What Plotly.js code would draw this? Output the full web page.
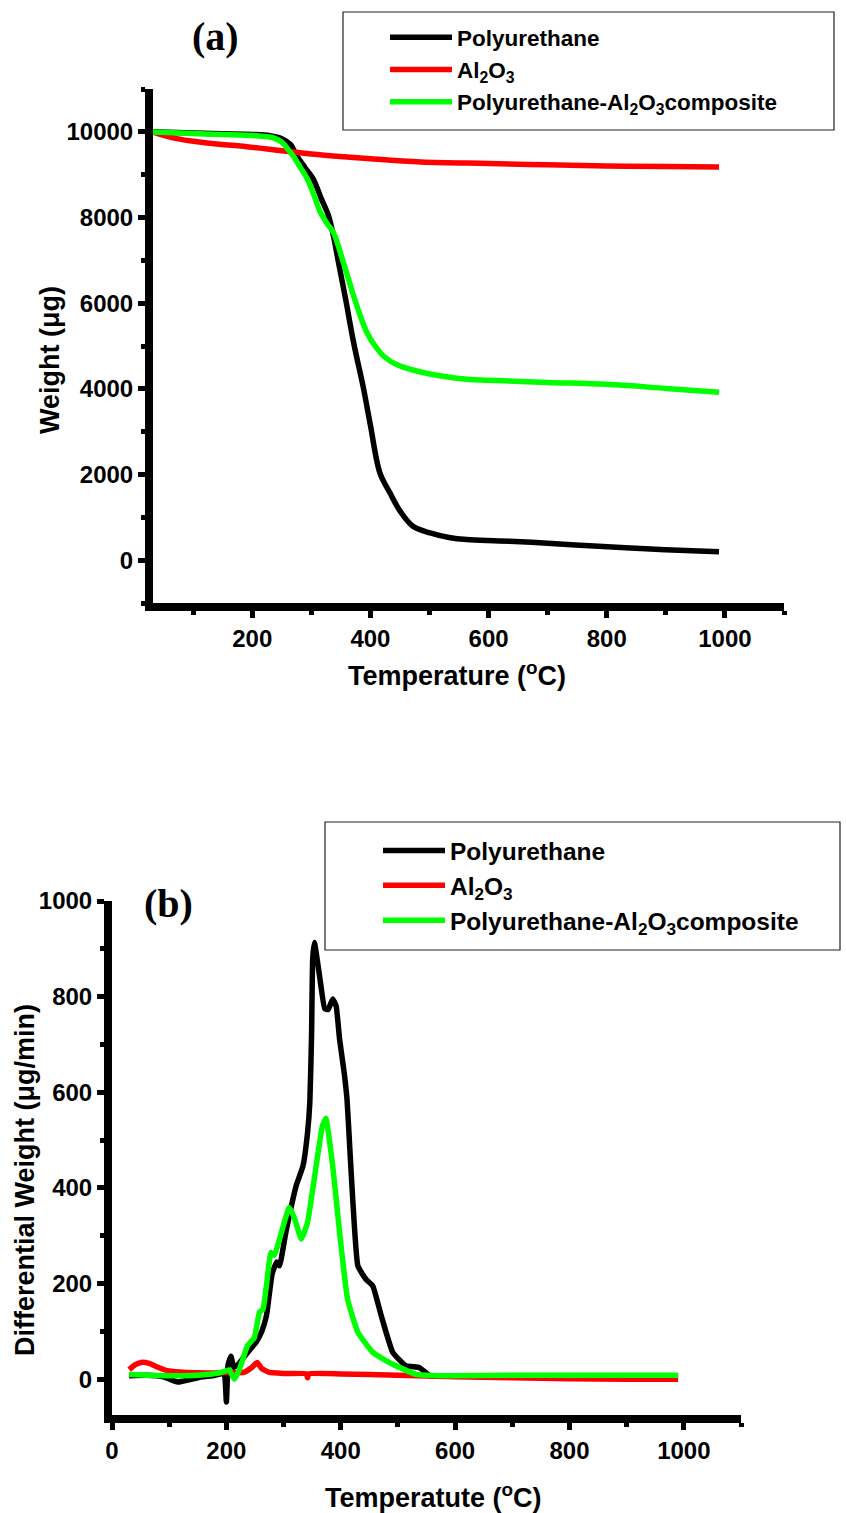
<!DOCTYPE html>
<html>
<head>
<meta charset="utf-8">
<script src="https://cdn.plot.ly/plotly-3.0.1.min.js"></script>
<style>html,body{margin:0;padding:0;background:#fff;}#chart{width:846px;height:1513px;}</style>
</head>
<body>
<div id="chart"></div>
<script>
// ---------- (a) TGA data ----------
const tgaTempPU = [30, 100, 150, 200, 230, 250, 265, 275, 290, 303, 317, 329, 337, 346, 358, 372, 388, 400, 416, 433, 450, 472, 501, 533, 563, 618, 673, 786, 899, 990];
const tgaWeightPU = [10000, 9970, 9955, 9940, 9910, 9840, 9700, 9447, 9150, 8903, 8435, 8044, 7600, 6950, 6095, 5050, 4030, 3150, 2040, 1572, 1150, 791, 636, 530, 480, 450, 416, 323, 246, 199];

const tgaTempAl = [30, 50, 75, 100, 140, 180, 225, 269, 300, 337, 400, 486, 600, 700, 800, 900, 990];
const tgaWeightAl = [10000, 9920, 9836, 9780, 9718, 9670, 9600, 9530, 9480, 9437, 9370, 9296, 9260, 9230, 9200, 9190, 9180];

const tgaTempComp = [30, 100, 165, 200, 235, 250, 260, 269, 280, 293, 305, 315, 327, 337, 354, 372, 383, 394, 408, 422, 445, 478, 520, 563, 600, 700, 800, 900, 990];
const tgaWeightComp = [10000, 9960, 9930, 9915, 9862, 9760, 9600, 9441, 9200, 8903, 8500, 8130, 7850, 7662, 6960, 6150, 5700, 5316, 5000, 4768, 4560, 4417, 4300, 4223, 4200, 4150, 4106, 4010, 3919];

// ---------- (b) DTG data ----------
const dtgTempPU = [30, 60, 90, 115, 150, 180, 196, 200, 203, 208, 213, 220, 230, 240, 252, 262, 270, 280, 288, 293, 304, 322, 334, 342, 346, 349, 351, 354, 363, 372, 378, 386, 392, 398, 406, 411, 416, 421, 430, 444, 456, 471, 491, 514, 538, 555, 600, 700, 800, 900, 990];
const dtgRatePU = [7, 8, 5, -6, 3, 8, 12, -48, 30, 48, 25, 30, 45, 60, 77, 100, 132, 220, 245, 237, 307, 404, 446, 516, 580, 720, 880, 913, 843, 775, 773, 795, 780, 711, 641, 585, 480, 376, 237, 209, 195, 132, 56, 28, 24, 8, 6, 6, 5, 6, 7];

const dtgTempAl = [30, 40, 51, 65, 80, 100, 130, 170, 200, 230, 245, 254, 262, 275, 300, 340, 342, 344, 400, 500, 600, 700, 800, 900, 990];
const dtgRateAl = [20, 30, 35, 33, 25, 17, 14, 13, 14, 14, 25, 35, 22, 14, 12, 11, 3, 11, 11, 8, 5, 3, 1, 0, 0];

const dtgTempComp = [30, 60, 100, 150, 190, 205, 214, 223, 237, 249, 258, 264, 270, 278, 284, 293, 310, 319, 331, 342, 357, 368, 374, 386, 398, 412, 430, 456, 491, 532, 585, 700, 800, 900, 990];
const dtgRateComp = [10, 8, 7, 8, 14, 19, 0, 21, 70, 87, 140, 146, 195, 265, 259, 293, 359, 337, 293, 328, 446, 530, 545, 446, 307, 167, 98, 56, 31, 10, 7, 8, 8, 8, 8];

const seriesNames = ['Polyurethane', 'Al<sub>2</sub>O<sub>3</sub>', 'Polyurethane-Al<sub>2</sub>O<sub>3</sub>composite'];
const seriesColors = ['#000000', '#ff0000', '#00ff00'];

const xTickValsA = [200, 400, 600, 800, 1000];
const xTickValsB = [0, 200, 400, 600, 800, 1000];
const yTickValsA = [0, 2000, 4000, 6000, 8000, 10000];
const yTickTextA = ['0', '2000', '4000', '6000', '8000', '10000'];
const yTickValsB = [0, 200, 400, 600, 800, 1000];

const xTitleA = 'Temperature (<sup>o</sup>C)';
const yTitleA = 'Weight (μg)';
const xTitleB = 'Temperatute (<sup>o</sup>C)';
const yTitleB = 'Differential Weight (μg/min)';

const FONT = 'Liberation Sans, Arial, sans-serif';
const SERIF = 'Liberation Serif, Times New Roman, serif';
const W = 846, H = 1513;
const px = v => v / W;
const py = v => (H - v) / H;

function line(x, y, i, xa, ya, leg, smooth) {
  return {x: x, y: y, type: 'scatter', mode: 'lines', name: seriesNames[i],
    xaxis: xa, yaxis: ya, legend: leg,
    line: {color: seriesColors[i], width: 5.5, shape: 'spline', smoothing: smooth}};
}

const traces = [
  line(tgaTempPU, tgaWeightPU, 0, 'x', 'y', 'legend', 1.0),
  line(tgaTempAl, tgaWeightAl, 1, 'x', 'y', 'legend', 1.0),
  line(tgaTempComp, tgaWeightComp, 2, 'x', 'y', 'legend', 1.0),
  line(dtgTempPU, dtgRatePU, 0, 'x2', 'y2', 'legend2', 0.4),
  line(dtgTempAl, dtgRateAl, 1, 'x2', 'y2', 'legend2', 0.4),
  line(dtgTempComp, dtgRateComp, 2, 'x2', 'y2', 'legend2', 0.4)
];

const tickFont = {family: FONT, size: 24, color: '#000', weight: 'bold'};
const titleFont = {family: FONT, size: 27, color: '#000', weight: 'bold'};

function axisCommon(extra) {
  return Object.assign({
    showline: true, linecolor: '#000', linewidth: 8,
    ticks: 'outside', ticklen: 7, tickwidth: 5, tickcolor: '#000',
    showgrid: false, zeroline: false, mirror: false,
    tickfont: tickFont, automargin: false, fixedrange: true
  }, extra);
}
const minorTicks = d => ({ticks: 'outside', dtick: d, tick0: 0, ticklen: 4, tickwidth: 5, tickcolor: '#000'});

const layout = {
  width: W, height: H,
  margin: {l: 0, r: 0, t: 0, b: 0},
  paper_bgcolor: '#fff', plot_bgcolor: '#fff',
  showlegend: true,
  xaxis: axisCommon({
    domain: [px(153), px(784)], range: [32, 1100], anchor: 'y',
    tickmode: 'array', tickvals: xTickValsA, minor: minorTicks(100)
  }),
  yaxis: axisCommon({
    domain: [py(603), py(89)], range: [-1000, 11000], anchor: 'x',
    tickmode: 'array', tickvals: yTickValsA, ticktext: yTickTextA, minor: minorTicks(1000)
  }),
  xaxis2: axisCommon({
    domain: [px(112), px(741)], range: [0, 1100], anchor: 'y2',
    tickmode: 'array', tickvals: xTickValsB, minor: minorTicks(100)
  }),
  yaxis2: axisCommon({
    domain: [py(1415), py(901)], range: [-75, 1000], anchor: 'x2',
    tickmode: 'array', tickvals: yTickValsB, minor: minorTicks(100)
  }),
  legend: {
    x: px(385), y: py(16), xanchor: 'left', yanchor: 'top',
    bgcolor: 'rgba(0,0,0,0)', borderwidth: 0, itemwidth: 62,
    font: {family: FONT, size: 22.5, color: '#000', weight: 'bold'},
    tracegroupgap: 0, itemclick: false, itemdoubleclick: false
  },
  legend2: {
    x: px(378), y: py(828), xanchor: 'left', yanchor: 'top',
    bgcolor: 'rgba(0,0,0,0)', borderwidth: 0, itemwidth: 62,
    font: {family: FONT, size: 24.5, color: '#000', weight: 'bold'},
    tracegroupgap: 0, itemclick: false, itemdoubleclick: false
  },
  shapes: [
    {type: 'rect', xref: 'paper', yref: 'paper', x0: px(343), x1: px(834), y0: py(130), y1: py(12),
     line: {color: '#222', width: 1.2}, fillcolor: 'rgba(0,0,0,0)'},
    {type: 'rect', xref: 'paper', yref: 'paper', x0: px(325), x1: px(840), y0: py(950), y1: py(822),
     line: {color: '#222', width: 1.2}, fillcolor: 'rgba(0,0,0,0)'}
  ],
  annotations: [
    {text: '(a)', xref: 'paper', yref: 'paper', x: px(216), y: py(37), showarrow: false,
     xanchor: 'center', yanchor: 'middle',
     font: {family: SERIF, size: 40, color: '#000', weight: 'bold'}},
    {text: '(b)', xref: 'paper', yref: 'paper', x: px(168), y: py(903), showarrow: false,
     xanchor: 'center', yanchor: 'middle',
     font: {family: SERIF, size: 40, color: '#000', weight: 'bold'}},
    {text: xTitleA, xref: 'paper', yref: 'paper', x: px(457), y: py(674), showarrow: false,
     xanchor: 'center', yanchor: 'middle', font: titleFont},
    {text: yTitleA, xref: 'paper', yref: 'paper', x: px(50), y: py(360), showarrow: false,
     xanchor: 'center', yanchor: 'middle', textangle: -90, font: titleFont},
    {text: xTitleB, xref: 'paper', yref: 'paper', x: px(433), y: py(1496), showarrow: false,
     xanchor: 'center', yanchor: 'middle', font: titleFont},
    {text: yTitleB, xref: 'paper', yref: 'paper', x: px(25), y: py(1180), showarrow: false,
     xanchor: 'center', yanchor: 'middle', textangle: -90, font: titleFont}
  ]
};

Plotly.newPlot('chart', traces, layout, {displayModeBar: false, staticPlot: true});
</script>
</body>
</html>
